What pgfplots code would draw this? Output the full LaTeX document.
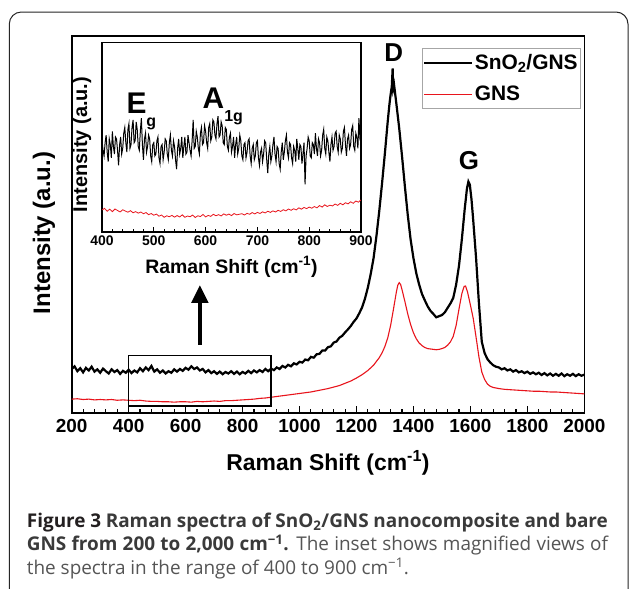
\documentclass[border=0pt]{standalone}
\usepackage{fontspec}
\setmainfont{Liberation Sans}
\newfontfamily\capfont{Open Sans}
\usepackage{pgfplots}
\pgfplotsset{compat=1.18}
\usepackage{pgfplotstable}
\usetikzlibrary{arrows.meta}
\definecolor{spred}{HTML}{E8141C}
\definecolor{capdark}{HTML}{231F20}
\definecolor{capmid}{HTML}{3A3A3A}
\definecolor{caplight}{HTML}{555555}

% main spectrum, SnO2/GNS (intensity in arbitrary units, 0-100 scale)
\pgfplotstableread{
x y
200 11.6
210 12.3
220 11.0
230 11.8
240 10.7
250 11.9
260 11.2
270 12.2
280 10.9
290 11.5
300 10.6
310 11.7
320 11.0
330 10.4
340 11.5
350 10.8
360 11.3
370 10.3
380 11.1
390 10.6
400 11.4
410 10.5
420 11.2
430 10.7
440 11.8
450 11.0
460 12.0
470 11.3
480 12.4
490 10.9
500 11.5
510 10.6
520 11.2
530 10.4
540 11.0
550 10.6
560 11.5
570 10.9
580 11.6
590 11.1
600 11.9
610 11.4
620 12.3
630 11.6
640 12.0
650 11.2
660 11.6
670 10.7
680 11.3
690 10.5
700 11.0
710 10.3
720 10.9
730 10.2
740 10.8
750 10.4
760 11.0
770 10.3
780 10.9
790 10.2
800 10.8
810 10.4
820 11.1
830 10.5
840 11.2
850 10.7
860 11.3
870 10.8
880 11.6
890 11.0
900 11.7
910 11.3
920 12.0
930 11.6
940 12.4
950 12.0
960 12.7
970 12.3
980 13.1
990 12.8
1000 13.5
1010 13.3
1020 14.1
1030 13.9
1040 14.8
1050 14.6
1060 15.5
1070 15.6
1080 16.5
1090 16.5
1100 17.4
1110 17.6
1120 18.6
1130 18.9
1140 19.9
1150 20.4
1160 21.3
1170 22.1
1180 23.0
1190 24.1
1200 25.0
1210 26.4
1220 28.0
1230 30.3
1240 33.2
1250 36.8
1260 41.0
1270 46.8
1280 53.5
1290 61.0
1300 69.0
1310 77.5
1316 82.0
1320 84.5
1324 86.5
1327 91.3
1329 86.0
1332 87.0
1336 84.5
1340 82.0
1350 75.5
1360 68.0
1370 60.0
1380 52.5
1390 46.0
1400 41.0
1410 37.0
1420 34.0
1430 31.5
1440 29.8
1450 28.2
1460 27.0
1470 26.2
1480 25.3
1490 25.6
1500 25.9
1510 26.6
1520 27.8
1530 29.0
1540 30.5
1550 34.0
1560 39.0
1570 46.0
1580 54.0
1588 59.5
1593 61.3
1598 60.5
1604 56.5
1610 51.0
1620 41.0
1630 29.0
1640 18.8
1650 15.8
1660 14.2
1670 13.3
1680 12.6
1690 12.2
1700 12.0
1710 11.5
1720 11.8
1730 11.2
1740 11.5
1750 10.9
1760 11.3
1770 10.7
1780 11.0
1790 10.5
1800 10.9
1810 10.3
1820 10.7
1830 10.2
1840 10.6
1850 10.0
1860 10.5
1870 9.9
1880 10.4
1890 9.8
1900 10.3
1910 9.8
1920 10.4
1930 9.7
1940 10.2
1950 9.8
1960 10.3
1970 9.7
1980 10.2
1990 9.8
2000 10.1
}\snomain

% main spectrum, bare GNS
\pgfplotstableread{
x y
200 3.6
220 3.7
240 3.5
260 3.6
280 3.4
300 3.5
320 3.4
340 3.5
360 3.3
380 3.4
400 3.3
420 3.2
440 3.3
460 3.1
480 3.0
500 3.0
520 2.9
540 2.9
560 2.8
580 2.9
600 2.9
620 2.8
640 3.0
660 2.9
680 3.0
700 3.1
720 3.0
740 3.2
760 3.2
780 3.3
800 3.4
820 3.5
840 3.6
860 3.8
880 3.9
900 4.1
920 4.3
940 4.5
960 4.7
980 4.9
1000 5.1
1020 5.3
1040 5.5
1060 5.8
1080 6.1
1100 6.4
1120 6.8
1140 7.2
1160 7.8
1180 8.4
1200 9.2
1220 10.1
1240 11.2
1260 12.6
1280 14.6
1290 15.9
1300 17.6
1310 19.9
1320 23.2
1330 27.5
1340 32.0
1345 33.8
1350 34.5
1355 34.0
1360 32.6
1370 29.5
1380 26.2
1390 23.4
1400 21.2
1410 19.6
1420 18.5
1430 17.8
1440 17.3
1450 17.0
1460 16.9
1470 16.8
1480 16.7
1490 16.8
1500 17.0
1510 17.3
1520 17.9
1530 18.8
1540 20.3
1550 23.2
1560 27.5
1570 31.6
1578 33.5
1583 33.6
1590 32.0
1600 28.6
1610 25.0
1620 20.0
1630 14.8
1640 10.8
1650 8.8
1660 7.6
1670 7.0
1680 6.7
1700 6.4
1720 6.2
1740 6.1
1760 6.0
1780 5.9
1800 5.8
1820 5.7
1840 5.7
1860 5.6
1880 5.5
1900 5.5
1920 5.4
1940 5.3
1960 5.2
1980 5.1
2000 5.0
}\gnsmain

% inset, SnO2/GNS 400-900
\pgfplotstableread{
x y
400 48
402 43
404 40
406 47
408 51
410 42
412 37
414 49
416 46
418 39
420 53
422 45
424 41
426 50
428 49
430 43
432 35
434 46
436 50
438 41
440 44
442 52
444 55
446 47
448 42
450 54
452 57
454 44
456 46
458 55
460 59
462 47
464 48
466 58
468 54
470 45
472 43
474 53
476 60
478 46
480 38
482 49
484 52
486 42
488 45
490 51
492 49
494 40
496 37
498 46
500 47
502 40
504 41
506 48
508 50
510 39
512 36
514 45
516 46
518 38
520 42
522 49
524 48
526 41
528 38
530 47
532 51
534 43
536 40
538 48
540 45
542 38
544 33
546 44
548 49
550 41
552 44
554 50
556 39
558 45
560 50
562 41
564 42
566 51
568 47
570 43
572 40
574 48
576 59
578 44
580 45
582 53
584 50
586 44
588 41
590 52
592 55
594 46
596 47
598 56
600 53
602 47
604 44
606 55
608 57
610 48
612 50
614 59
616 58
618 51
620 49
622 57
624 61
626 50
628 51
630 58
632 56
634 47
636 46
638 55
640 54
642 45
644 43
646 50
648 52
650 42
652 45
654 50
656 39
658 46
660 50
662 41
664 44
666 51
668 48
670 40
672 38
674 46
676 47
678 39
680 42
682 48
684 49
686 40
688 36
690 44
692 46
694 38
696 40
698 47
700 48
702 39
704 35
706 42
708 44
710 37
712 41
714 48
716 47
718 38
720 31
722 41
724 45
726 37
728 40
730 46
732 50
734 41
736 37
738 45
740 44
742 36
744 33
746 42
748 47
750 38
752 42
754 48
756 51
758 42
760 39
762 47
764 46
766 39
768 36
770 45
772 43
774 37
776 49
778 44
780 38
782 46
784 45
786 36
788 41
790 47
792 25
794 40
796 44
798 50
800 48
802 40
804 39
806 47
808 46
810 41
812 52
814 44
816 40
818 49
820 47
822 40
824 43
826 51
828 54
830 44
832 41
834 50
836 48
838 42
840 37
842 46
844 50
846 43
848 45
850 52
852 53
854 45
856 42
858 51
860 49
862 42
864 44
866 53
868 55
870 46
872 40
874 49
876 51
878 44
880 46
882 54
884 56
886 45
888 43
890 52
892 50
894 44
896 60
898 49
900 47
}\snoinset

% inset, bare GNS 400-900
\pgfplotstableread{
x y
400 11.5
405 12.3
410 10.8
415 11.9
420 10.6
425 12.0
430 11.2
435 10.4
440 11.6
445 10.9
450 10.3
455 11.1
460 10.0
465 10.6
470 9.8
475 10.4
480 9.5
485 10.1
490 9.0
495 9.6
500 8.7
505 9.3
510 8.2
515 8.8
520 7.6
525 8.4
530 7.9
535 8.6
540 7.7
545 8.5
550 7.8
555 8.9
560 7.6
565 8.3
570 7.9
575 8.8
580 7.5
585 8.4
590 8.0
595 9.1
600 7.8
605 8.6
610 8.1
615 9.2
620 8.4
625 9.0
630 8.3
635 9.4
640 8.7
645 9.3
650 8.5
655 9.6
660 8.9
665 9.2
670 9.5
675 8.8
680 9.7
685 9.2
690 10.1
695 9.4
700 10.2
705 9.6
710 10.5
715 9.9
720 10.8
725 10.2
730 11.0
735 10.4
740 11.3
745 10.7
750 11.6
755 11.0
760 12.0
765 11.3
770 12.1
775 11.5
780 12.6
785 11.9
790 12.8
795 12.2
800 13.0
805 12.4
810 13.3
815 12.6
820 13.8
825 13.0
830 14.2
835 13.3
840 14.0
845 13.6
850 14.6
855 13.9
860 15.0
865 14.2
870 15.3
875 14.7
880 15.8
885 15.0
890 16.2
895 15.6
900 16.8
}\gnsinset

\begin{document}
\begin{tikzpicture}
\useasboundingbox (0bp,0bp) rectangle (629bp,-589bp);
\fill[white] (0bp,0bp) rectangle (629bp,-589bp);

% main axis
\begin{axis}[
  at={(71.7bp,-35.7bp)}, anchor=north west,
  width=512.6bp, height=377bp, scale only axis,
  xmin=200, xmax=2000, ymin=0, ymax=100,
  xtick={200,400,...,2000}, minor x tick num=4,
  ytick=\empty, xtick pos=bottom,
  tick align=inside,
  major tick length=7bp, minor tick length=4bp,
  every tick/.style={line width=1.1bp, black},
  axis line style={line width=1.6bp},
  /pgf/number format/assume math mode=true,
  /pgf/number format/1000 sep={},
  xticklabel style={font=\fontsize{19}{19}\selectfont\bfseries, yshift=-3bp},
  legend style={at={(0.9936,0.9666)}, anchor=north east,
    draw=gray!70, line width=0.8bp,
    font=\fontsize{21}{21}\selectfont\bfseries,
    inner xsep=1bp, inner ysep=4bp, row sep=11bp,
    cells={anchor=west}},
  legend image code/.code={\draw[#1, line width=1.3bp] (0bp,0bp) -- (48bp,0bp);},
]
\addplot[black, line width=2.2bp] table {\snomain};
\addlegendentry{SnO\textsubscript{2}/GNS}
\addplot[spred, line width=1.1bp] table {\gnsmain};
\addlegendentry{GNS}
\draw[line width=1.3bp] (axis cs:400,1.8) rectangle (axis cs:900,15.1);
\draw[line width=4.5bp, -{Triangle[length=18bp,width=16bp]}] (axis cs:650,18.0) -- (axis cs:650,33.9);
\node[font=\fontsize{26}{26}\selectfont\bfseries] at (axis cs:1331,95.4) {D};
\node[font=\fontsize{26}{26}\selectfont\bfseries] at (axis cs:1595,67) {G};
\end{axis}

% inset axis
\begin{axis}[
  at={(102bp,-42.3bp)}, anchor=north west,
  width=259bp, height=189.4bp, scale only axis,
  axis background/.style={fill=white},
  xmin=400, xmax=900, ymin=0, ymax=100,
  xtick={400,500,...,900}, minor x tick num=4,
  ytick=\empty, xtick pos=bottom,
  tick align=inside,
  major tick length=5bp, minor tick length=3bp,
  every tick/.style={line width=1bp, black},
  axis line style={line width=1.6bp},
  /pgf/number format/assume math mode=true,
  xticklabel style={font=\fontsize{14}{14}\selectfont\bfseries, yshift=-1bp},
]
\addplot[black, line width=1bp] table {\snoinset};
\addplot[spred, line width=0.8bp] table {\gnsinset};
\node[anchor=base west, inner sep=0pt, font=\fontsize{30}{30}\selectfont\bfseries]
  at (axis cs:447,62.5) {E\raisebox{-13bp}{\fontsize{16}{16}\selectfont g}};
\node[anchor=base west, inner sep=0pt, font=\fontsize{30}{30}\selectfont\bfseries]
  at (axis cs:594,65.3) {A\raisebox{-13bp}{\fontsize{16}{16}\selectfont 1g}};
\end{axis}

% axis titles
\node[font=\fontsize{23}{23}\selectfont\bfseries] at (328bp,-463bp) {Raman Shift (cm\textsuperscript{-1})};
\node[font=\fontsize{24}{24}\selectfont\bfseries, rotate=90] at (44bp,-233bp) {Intensity (a.u.)};
\node[font=\fontsize{19.5}{19.5}\selectfont\bfseries] at (231.5bp,-267bp) {Raman Shift (cm\textsuperscript{-1})};
\node[font=\fontsize{20}{20}\selectfont\bfseries, rotate=90] at (82bp,-144.5bp) {Intensity (a.u.)};

% outer frame
\draw[line width=1bp, black!85, rounded corners=12bp] (9.3bp,-12bp) rectangle (628bp,-640bp);

% caption
\begin{scope}[every node/.style={anchor=base west, inner sep=0pt}]
\node[font=\capfont\fontsize{19}{19}\selectfont] at (26.7bp,-527bp)
  {\makebox[581bp][s]{\color{capdark}\bfseries Figure 3 \color{capmid}Raman spectra of SnO\textsubscript{2}/GNS nanocomposite and bare}};
\node[font=\capfont\fontsize{19}{19}\selectfont] at (26.7bp,-550.5bp)
  {\makebox[581bp][s]{\color{capmid}\bfseries GNS from 200 to 2,000 cm\textsuperscript{−1}. \mdseries\color{caplight}The inset shows magnified views of}};
\node[font=\capfont\fontsize{19}{19}\selectfont, text=caplight] at (26.7bp,-574bp)
  {the spectra in the range of 400 to 900 cm\textsuperscript{−1}.};
\end{scope}
\end{tikzpicture}
\end{document}
